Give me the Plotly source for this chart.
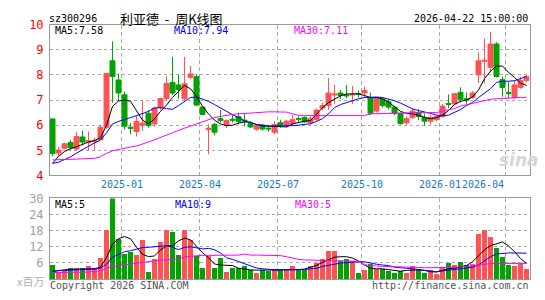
import plotly.graph_objects as go

# ---------------- data (weekly bars) ----------------
opens = [6.25, 4.89, 5.08, 5.31, 5.05, 5.53, 5.32, 5.35, 5.42, 5.92,
         8.56, 7.80, 7.21, 5.92, 5.75, 6.00, 6.47, 6.05, 6.70, 7.06,
         7.70, 7.60, 7.05, 7.90, 7.93, 6.72, 5.82, 6.03, 6.26, 6.03,
         6.24, 6.34, 6.20, 6.06, 5.84, 6.00, 5.88, 5.72, 6.10, 6.00,
         6.06, 6.26, 6.31, 6.10, 6.22, 6.68, 6.78, 7.20, 7.28, 7.20,
         7.20, 7.26, 7.28, 7.10, 6.56, 7.03, 6.93, 6.72, 6.47, 6.09,
         6.31, 6.50, 6.31, 6.16, 6.22, 6.34, 6.86, 6.85, 7.31, 7.05,
         7.10, 8.00, 8.54, 8.30, 9.23, 7.81, 7.30, 7.10, 7.50, 7.78]
highs = [6.25, 5.13, 5.30, 5.40, 5.72, 5.78, 5.75, 5.50, 6.00, 8.08,
         9.33, 8.06, 7.34, 6.08, 6.40, 6.97, 6.60, 6.75, 7.10, 7.95,
         8.72, 8.00, 8.72, 8.35, 8.00, 6.75, 6.03, 6.10, 6.60, 6.22,
         6.40, 6.50, 6.45, 6.15, 6.03, 6.05, 5.97, 6.16, 6.22, 6.22,
         6.40, 6.35, 6.35, 6.35, 6.66, 6.90, 7.88, 7.60, 7.40, 7.60,
         7.56, 7.38, 7.53, 7.30, 7.13, 7.10, 7.03, 6.78, 6.50, 6.35,
         6.68, 6.63, 6.47, 6.40, 6.40, 6.85, 7.22, 7.28, 7.51, 7.31,
         7.35, 8.89, 9.44, 9.72, 9.30, 7.93, 7.72, 7.78, 7.93, 8.00]
lows = [4.76, 4.76, 5.05, 5.00, 5.00, 5.20, 5.00, 5.00, 5.40, 5.85,
        6.90, 6.96, 5.83, 5.64, 5.55, 5.78, 5.90, 5.95, 6.60, 7.00,
        7.20, 7.05, 7.00, 7.85, 6.75, 6.40, 4.84, 5.60, 6.10, 5.88,
        6.10, 6.05, 5.95, 5.88, 5.78, 5.78, 5.74, 5.63, 5.90, 5.90,
        5.97, 6.10, 6.10, 6.00, 6.18, 6.60, 6.60, 6.85, 7.03, 7.08,
        6.85, 7.10, 7.12, 6.40, 6.50, 6.70, 6.63, 6.40, 6.02, 6.02,
        6.25, 6.20, 5.97, 6.03, 6.15, 6.30, 6.68, 6.80, 6.90, 6.85,
        7.05, 7.68, 7.66, 8.10, 7.90, 7.13, 7.05, 7.05, 7.45, 7.70]
closes = [4.87, 5.01, 5.26, 5.11, 5.55, 5.33, 5.38, 5.39, 5.92, 8.06,
          7.94, 7.28, 5.96, 5.88, 6.15, 6.08, 5.98, 6.68, 7.06, 7.66,
          7.28, 7.42, 7.65, 8.04, 6.80, 6.43, 5.88, 5.72, 6.18, 6.18,
          6.20, 6.15, 6.17, 5.93, 5.97, 5.85, 5.85, 6.03, 6.00, 6.16,
          6.22, 6.24, 6.13, 6.26, 6.60, 6.78, 7.28, 7.24, 7.18, 7.17,
          7.23, 7.24, 7.38, 6.47, 7.10, 6.78, 6.72, 6.47, 6.06, 6.26,
          6.56, 6.35, 6.16, 6.31, 6.34, 6.76, 6.83, 7.25, 7.03, 7.00,
          7.28, 8.56, 8.58, 9.23, 7.94, 7.50, 7.26, 7.60, 7.78, 7.93]
ma5 = [4.48, 4.76, 4.95, 5.07, 5.14, 5.24, 5.33, 5.39, 5.50, 6.00,
       6.75, 6.96, 7.00, 6.95, 6.60, 6.20, 6.05, 6.25, 6.55, 6.80,
       7.10, 7.35, 7.58, 7.45, 7.15, 6.75, 6.45, 6.20, 6.05, 5.98,
       6.00, 6.08, 6.13, 6.12, 6.02, 5.97, 5.96, 5.95, 5.94, 5.93,
       6.05, 6.12, 6.16, 6.18, 6.45, 6.70, 6.90, 7.05, 7.17, 7.24,
       7.25, 7.25, 7.18, 7.10, 7.10, 7.05, 6.92, 6.75, 6.55, 6.47,
       6.45, 6.40, 6.31, 6.26, 6.30, 6.40, 6.58, 6.83, 6.95, 7.00,
       7.12, 7.40, 7.85, 8.15, 8.35, 8.35, 8.10, 7.90, 7.68, 7.58]
ma10 = [4.48, 4.53, 4.63, 4.74, 4.89, 5.04, 5.16, 5.29, 5.41, 5.70,
        6.05, 6.15, 6.21, 6.30, 6.38, 6.45, 6.55, 6.68, 6.70, 6.66,
        6.63, 6.78, 6.95, 7.10, 7.12, 7.05, 6.95, 6.82, 6.68, 6.55,
        6.42, 6.30, 6.18, 6.10, 6.03, 6.00, 5.97, 5.97, 5.97, 5.97,
        5.98, 6.00, 6.03, 6.06, 6.15, 6.26, 6.45, 6.70, 6.82, 6.90,
        7.00, 7.05, 7.10, 7.12, 7.12, 7.10, 7.05, 6.97, 6.88, 6.75,
        6.65, 6.58, 6.53, 6.47, 6.40, 6.38, 6.40, 6.50, 6.62, 6.78,
        6.90, 7.10, 7.28, 7.45, 7.70, 7.75, 7.75, 7.77, 7.85, 7.94]
ma30 = [4.62, 4.62, 4.63, 4.64, 4.65, 4.66, 4.67, 4.68, 4.74, 4.88,
        4.98, 5.04, 5.08, 5.13, 5.17, 5.24, 5.33, 5.42, 5.52, 5.62,
        5.70, 5.79, 5.88, 5.97, 6.05, 6.15, 6.24, 6.30, 6.35, 6.40,
        6.43, 6.45, 6.47, 6.49, 6.50, 6.52, 6.53, 6.53, 6.53, 6.52,
        6.45, 6.39, 6.38, 6.38, 6.38, 6.38, 6.38, 6.38, 6.38, 6.38,
        6.38, 6.38, 6.38, 6.45, 6.46, 6.47, 6.47, 6.48, 6.48, 6.49,
        6.49, 6.50, 6.50, 6.50, 6.50, 6.56, 6.61, 6.66, 6.76, 6.82,
        6.88, 6.93, 6.97, 7.03, 7.05, 7.07, 7.08, 7.09, 7.10, 7.11]
volume = [5.2, 2.6, 3.2, 3.8, 3.8, 3.8, 4.5, 3.8, 7.7, 17.9,
          31.0, 14.9, 9.1, 9.9, 8.7, 14.4, 2.4, 7.3, 13.6, 18.2,
          17.2, 8.7, 17.9, 14.4, 8.3, 4.1, 8.3, 3.8, 7.7, 2.4,
          4.1, 3.8, 4.7, 3.2, 1.9, 3.2, 3.0, 3.6, 3.1, 3.1,
          4.7, 3.1, 3.1, 4.5, 5.9, 7.2, 10.4, 10.4, 6.4, 7.2,
          6.4, 1.9, 3.1, 5.4, 3.6, 3.4, 2.7, 2.2, 2.7, 2.2,
          4.7, 3.6, 2.2, 3.1, 1.6, 4.2, 5.9, 5.2, 6.1, 5.2,
          5.6, 16.5, 17.9, 15.6, 11.5, 8.2, 5.2, 4.6, 5.6, 3.6]
vol_ma5 = [2.8, 3.2, 3.4, 3.6, 3.6, 3.6, 3.7, 3.8, 4.4, 8.0,
           13.0, 15.0, 15.8, 15.0, 11.8, 9.2, 8.3, 8.6, 10.8, 12.4,
           12.3, 14.2, 15.2, 14.6, 12.2, 9.8, 7.9, 5.6, 5.2, 5.0,
           5.0, 4.0, 3.6, 3.4, 3.3, 3.3, 3.3, 3.4, 3.4, 3.5,
           3.5, 3.5, 3.7, 4.3, 5.1, 6.2, 7.2, 8.1, 8.3, 8.3,
           7.8, 6.7, 5.2, 4.0, 3.8, 3.8, 3.5, 3.2, 2.9, 3.2,
           3.4, 3.4, 3.2, 2.7, 2.6, 3.2, 3.8, 4.0, 4.4, 5.0,
           6.4, 8.5, 10.9, 12.4, 13.2, 13.8, 12.3, 10.2, 7.6, 5.8]
vol_ma10 = [3.0, 3.1, 3.2, 3.3, 3.4, 3.5, 3.6, 3.7, 4.1, 5.5,
            8.1, 9.3, 10.2, 10.5, 11.1, 11.7, 11.8, 12.1, 12.2, 12.4,
            11.8, 10.9, 11.8, 12.0, 11.5, 11.2, 11.4, 10.9, 9.7, 7.9,
            7.3, 6.5, 5.5, 4.7, 4.1, 3.8, 3.5, 3.4, 3.4, 3.4,
            3.4, 3.4, 3.5, 3.8, 4.0, 4.7, 5.2, 5.5, 5.9, 6.1,
            6.1, 6.4, 6.4, 5.9, 5.5, 5.2, 5.0, 4.4, 4.1, 4.0,
            3.8, 3.4, 3.2, 2.9, 2.7, 3.0, 3.2, 3.5, 3.8, 4.1,
            4.4, 5.2, 6.7, 8.3, 9.3, 9.6, 9.7, 9.7, 9.6, 9.6]
vol_ma30 = [2.4, 2.4, 2.45, 2.5, 2.5, 2.55, 2.6, 2.8, 3.2, 4.0,
            4.7, 5.1, 5.2, 5.5, 5.9, 6.1, 6.4, 6.7, 7.0, 7.2,
            7.2, 7.4, 8.3, 8.5, 8.5, 8.8, 8.8, 8.8, 8.8, 8.8,
            8.8, 8.9, 9.3, 8.9, 8.9, 8.9, 8.9, 8.8, 8.7, 8.3,
            7.7, 7.3, 7.1, 7.0, 7.0, 7.0, 6.9, 6.8, 6.8, 6.8,
            6.7, 6.6, 5.3, 5.0, 4.8, 4.7, 4.6, 4.6, 4.4, 4.4,
            4.3, 4.3, 4.2, 4.2, 4.2, 4.2, 4.3, 4.4, 4.5, 4.6,
            4.9, 5.2, 5.5, 5.7, 5.8, 5.8, 5.8, 5.8, 5.8, 5.8]

month_labels = ["2025-01", "2025-04", "2025-07", "2025-10", "2026-01", "2026-04"]
month_first_bar = [12, 25, 38, 52, 65, 76]
price_ticks = [4, 5, 6, 7, 8, 9, 10]
vol_ticks = [6, 12, 18, 24, 30]

code = "sz300296"
title_cn = "利亚德\u00a0\u00a0-\u00a0\u00a0周K线图"
stamp = "2026-04-22 15:00:00"
ma_main_text = ["MA5:7.58", "MA10:7.94", "MA30:7.11"]
ma_vol_text = ["MA5:5", "MA10:9", "MA30:5"]

# ---------------- style ----------------
W, H = 545, 300
RED = "#FF5353"
GREEN = "#00A300"
MA_COLORS = ["#000000", "#0000FF", "#FF00FF"]
MONO = "DejaVu Sans Mono"
GRID = "#AAAAAA"
FRAME = "#999999"

def px(x):
    return x / W

def py(y):
    return 1 - y / H

idx = list(range(len(closes)))
x_lo, x_hi = -0.42, len(closes) - 0.5
grid_x = [b - 0.5 for b in month_first_bar]

fig = go.Figure()

fig.add_trace(go.Candlestick(
    x=idx, open=opens, high=highs, low=lows, close=closes,
    increasing=dict(line=dict(color=RED, width=1), fillcolor=RED),
    decreasing=dict(line=dict(color=GREEN, width=1), fillcolor=GREEN),
    whiskerwidth=0, xaxis="x", yaxis="y", showlegend=False, hoverinfo="skip"))

for series, col in zip([ma5, ma10, ma30], MA_COLORS):
    fig.add_trace(go.Scatter(x=idx, y=series, mode="lines",
                             line=dict(color=col, width=1),
                             xaxis="x", yaxis="y", showlegend=False,
                             hoverinfo="skip"))

vol_colors = [RED if c >= o else GREEN for o, c in zip(opens, closes)]
fig.add_trace(go.Bar(x=idx, y=volume, marker=dict(color=vol_colors, line=dict(width=0)),
                     width=0.83, xaxis="x2", yaxis="y2", showlegend=False,
                     hoverinfo="skip"))
for series, col in zip([vol_ma5, vol_ma10, vol_ma30], MA_COLORS):
    fig.add_trace(go.Scatter(x=idx, y=series, mode="lines",
                             line=dict(color=col, width=1),
                             xaxis="x2", yaxis="y2", showlegend=False,
                             hoverinfo="skip"))

xdom = [px(50), px(529.5)]
common_x = dict(domain=xdom, range=[x_lo, x_hi], tickvals=grid_x,
                showticklabels=False, ticks="", showgrid=True,
                gridcolor=GRID, griddash="4px,3px", gridwidth=1,
                showline=True, mirror=True, linecolor=FRAME, linewidth=1,
                zeroline=False, fixedrange=True)

fig.update_layout(
    width=W, height=H, margin=dict(l=0, r=0, t=0, b=0),
    paper_bgcolor="white", plot_bgcolor="white",
    boxgap=0.17, boxgroupgap=0, bargap=0,
    xaxis=dict(anchor="y", rangeslider=dict(visible=False), **common_x),
    xaxis2=dict(anchor="y2", **common_x),
    yaxis=dict(domain=[py(176.7), py(18.5)], range=[4, 10], tickvals=price_ticks,
               ticktext=[str(v) for v in price_ticks],
               tickfont=dict(family=MONO, size=12, color="#FF0000"),
               ticks="", ticklabelstandoff=3,
               showgrid=True, gridcolor=GRID, griddash="dot", gridwidth=1,
               showline=True, mirror=True, linecolor=FRAME, linewidth=1,
               zeroline=False),
    yaxis2=dict(domain=[py(285.3), py(200.8)], range=[0, 30], tickvals=vol_ticks,
                ticktext=[str(v) for v in vol_ticks],
                tickfont=dict(family=MONO, size=12, color="#A0A0A0"),
                ticks="", ticklabelstandoff=3,
                showgrid=True, gridcolor=GRID, griddash="dot", gridwidth=1,
                showline=True, mirror=True, linecolor=FRAME, linewidth=1,
                zeroline=False),
    hovermode=False,
)

ann = []
def text(x, y, s, color="#000000", size=10, family=MONO, anchor="left", xref="paper"):
    ann.append(dict(x=x, y=py(y), xref=xref, yref="paper", text=s, showarrow=False,
                    xanchor=anchor, yanchor="middle",
                    font=dict(family=family, size=size, color=color)))

text(px(47), 12, code, size=10)
text(px(118), 12, title_cn, size=13, family="Noto Sans CJK SC")
text(px(530), 12, stamp, size=10, anchor="right")

for s, col, xx in zip(ma_main_text, MA_COLORS, [53, 172, 292]):
    text(px(xx), 25, s, color=col, size=10)
for s, col, xx in zip(ma_vol_text, MA_COLORS, [53, 173, 293]):
    text(px(xx), 207, s, color=col, size=10)

for i, (lab, gx) in enumerate(zip(month_labels, grid_x)):
    last = i == len(month_labels) - 1
    text(gx, 186, lab, color="#1878C8", size=10,
         anchor="right" if last else "center", xref="x")

text(px(48), 292, "Copyright 2026 SINA.COM", color="#555555", size=10)
text(px(531), 292, "http://finance.sina.com.cn", color="#555555", size=10, anchor="right")
text(px(46), 287, "x百万", color="#B0B0B0", size=11, family="Noto Sans CJK SC", anchor="right")
text(px(497), 161, "<b><i>sina</i></b>", color="#D6D6D6", size=17,
     family="DejaVu Sans")

fig.update_layout(annotations=ann)
fig.write_html("out.html")
